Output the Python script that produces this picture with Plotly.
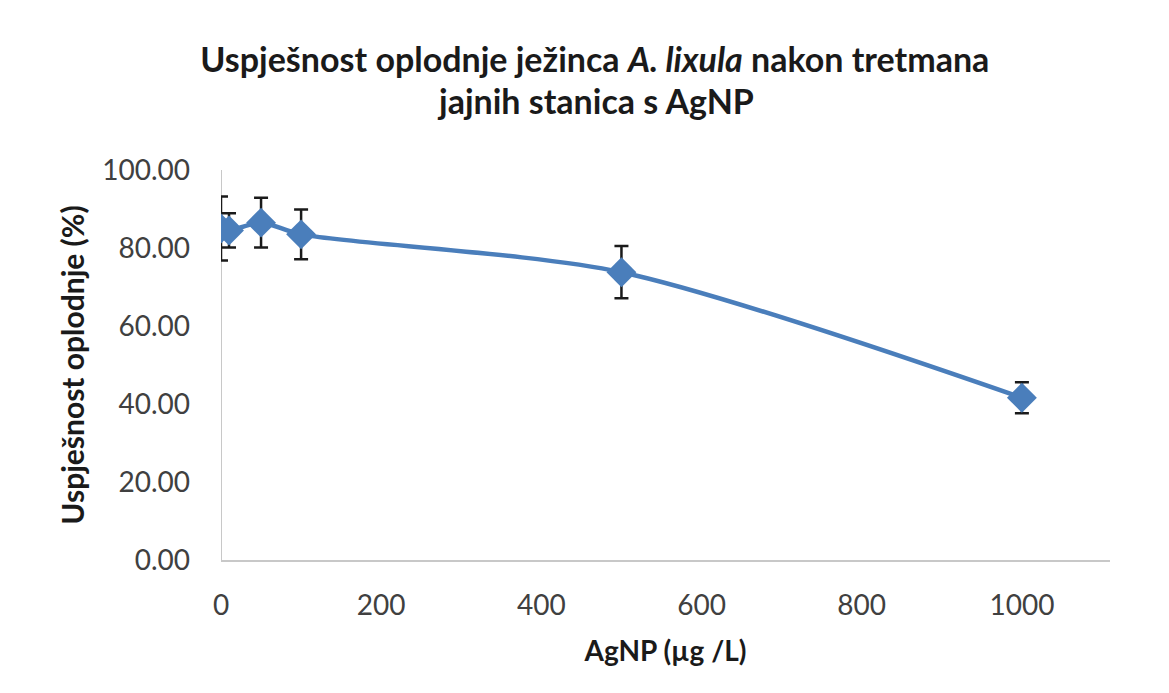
import plotly.graph_objects as go

conc = [0, 10, 50, 100, 500, 1000]
success = [85.0, 84.5, 86.5, 83.5, 73.8, 41.6]
err = [8.2, 4.4, 6.4, 6.4, 6.7, 4.0]

x_ticks = [0, 200, 400, 600, 800, 1000]
y_ticks = [0, 20, 40, 60, 80, 100]

title_line1 = "<b>Uspješnost oplodnje ježinca <i>A. lixula</i> nakon tretmana</b>"
title_line2 = "<b>jajnih stanica s AgNP</b>"

font = "Lato"
fig = go.Figure()
fig.add_trace(go.Scatter(
    x=conc, y=success, mode="lines+markers",
    line=dict(color="#4A7EBB", width=4.5, shape="spline", smoothing=0.8),
    marker=dict(symbol="diamond", size=23, color="#4A7EBB"),
    error_y=dict(type="data", array=err, visible=True, color="#1a1a1a", thickness=2.5, width=7),
    showlegend=False,
))
fig.update_layout(
    width=1169, height=693,
    paper_bgcolor="white", plot_bgcolor="white",
    margin=dict(l=213, r=67, t=162, b=141, autoexpand=False),
    title=dict(
        text=title_line1,
        x=0.502, xanchor="center", y=1 - 52 / 693, yanchor="middle",
        font=dict(family=font, size=34, color="#1a1a1a"),
    ),
    font=dict(family=font, color="#404040"),
)
fig.add_annotation(
    text=title_line2, xref="paper", yref="paper",
    x=(587 - 213) / 889, y=1 + (162 - 93) / 390, xanchor="center", yanchor="middle",
    showarrow=False, font=dict(family=font, size=34, color="#1a1a1a"),
)
fig.update_xaxes(
    range=[0, 1110], tickvals=x_ticks, ticktext=[str(v) for v in x_ticks],
    showgrid=False, zeroline=False, showline=True, linecolor="#C8C8C8", linewidth=2,
    ticks="", ticklabelstandoff=19, tickfont=dict(size=28, color="#404040", family=font),
    title=dict(text="<b>AgNP (µg /L)</b>", font=dict(size=28, color="#1a1a1a", family=font), standoff=22),
)
fig.update_yaxes(
    range=[0, 100], tickvals=y_ticks, ticktext=[f"{v:.2f}" for v in y_ticks],
    showgrid=False, zeroline=False, showline=False,
    ticks="", ticklabelstandoff=30, tickfont=dict(size=28, color="#404040", family=font),
    title=dict(text="<b>Uspješnost oplodnje (%)</b>", font=dict(size=30, color="#1a1a1a", family=font), standoff=8),
)
fig.add_shape(type="line", xref="x", yref="paper", x0=0, x1=0, y0=0, y1=1,
              line=dict(color="#C8C8C8", width=2), layer="below")
fig.write_html("out.html")
